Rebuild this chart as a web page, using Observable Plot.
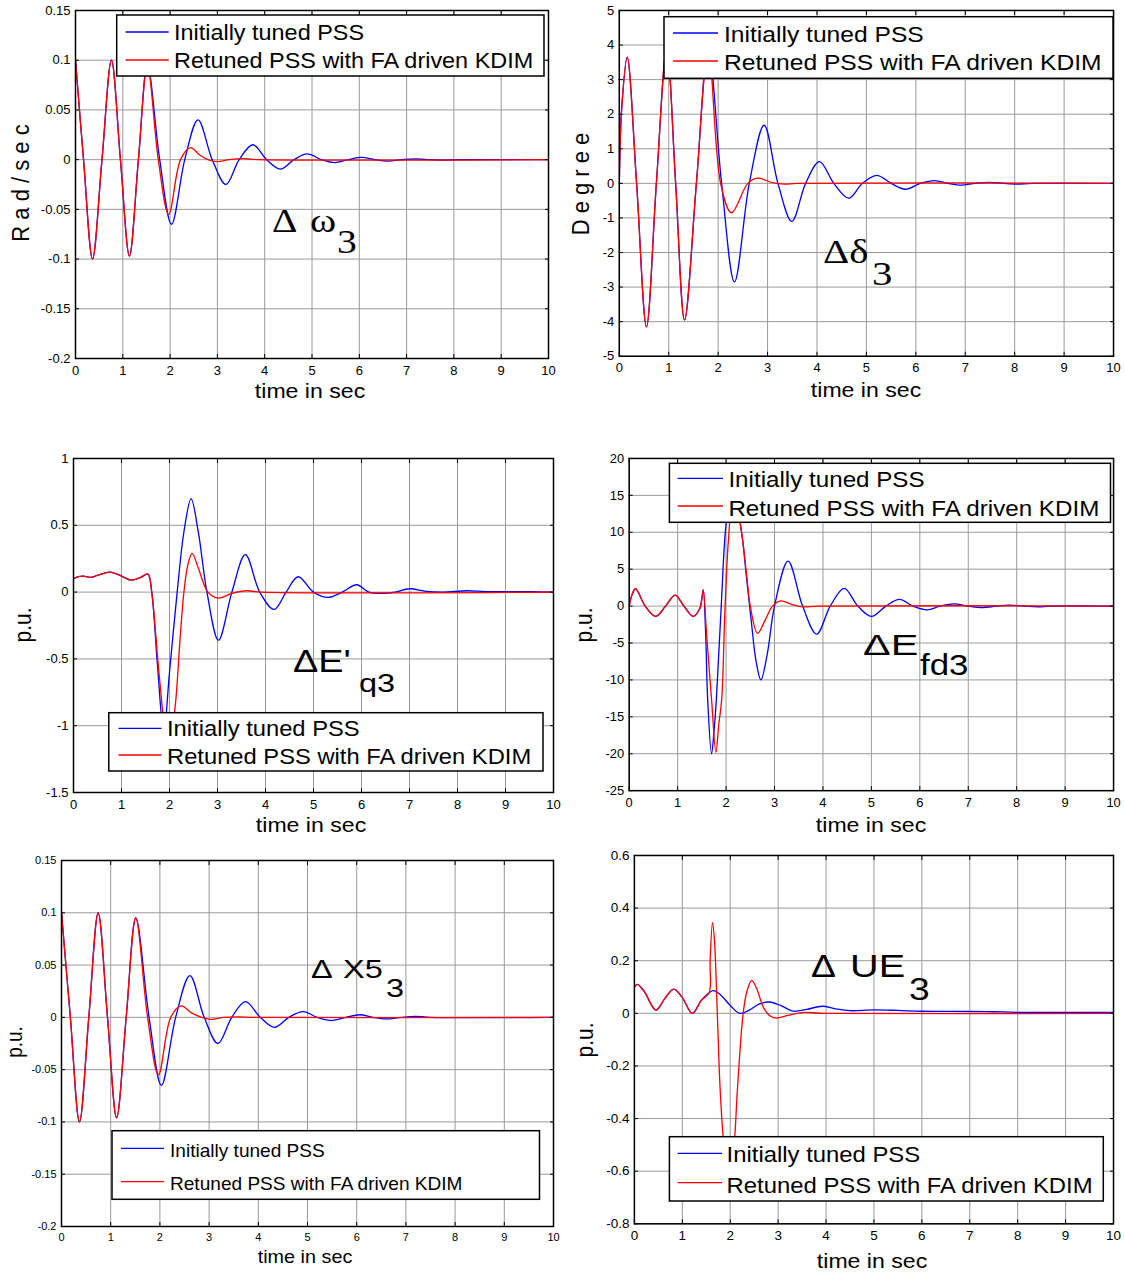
<!DOCTYPE html>
<html>
<head>
<meta charset="utf-8">
<script src="https://cdn.jsdelivr.net/npm/d3@7"></script>
<script src="https://cdn.jsdelivr.net/npm/@observablehq/plot@0.6"></script>
<style>
  html, body { margin: 0; padding: 0; background: #fff; }
  #fig { position: relative; width: 1125px; height: 1274px; overflow: hidden; background: #fff; }
  .panel { position: absolute; }
  #overlay { position: absolute; left: 0; top: 0; pointer-events: none; }
</style>
</head>
<body>
<div id="fig"></div>
<script>
// ---------- axis ticks ----------
const timeTicks  = [0, 1, 2, 3, 4, 5, 6, 7, 8, 9, 10];
const omegaTicks = [-0.2, -0.15, -0.1, -0.05, 0, 0.05, 0.1, 0.15];
const deltaTicks = [-5, -4, -3, -2, -1, 0, 1, 2, 3, 4, 5];
const eqTicks    = [-1.5, -1, -0.5, 0, 0.5, 1];
const efdTicks   = [-25, -20, -15, -10, -5, 0, 5, 10, 15, 20];
const x5Ticks    = [-0.2, -0.15, -0.1, -0.05, 0, 0.05, 0.1, 0.15];
const ueTicks    = [-0.8, -0.6, -0.4, -0.2, 0, 0.2, 0.4, 0.6];

const seriesNames = ["Initially tuned PSS", "Retuned PSS with FA driven KDIM"];
const seriesColors = ["#0000ff", "#ff0000"];

// ---------- responses: [time (s), value] ----------
// Δω3 (rad/s): common start, then each controller's tail
const omegaCommon = [[0,0.1],[0.17,0],[0.36,-0.1],[0.56,0],[0.76,0.1],[0.95,0],[1.14,-0.097],[1.33,0],[1.52,0.095]];
const omegaInitialTail = [[1.78,0],[2.03,-0.065],[2.31,0],[2.59,0.04],[2.89,0],[3.18,-0.025],[3.46,0],[3.75,0.015],[4.04,0],[4.33,-0.0095],[4.62,0],[4.9,0.0058],[5.2,0],[5.48,-0.003],[5.77,0],[6.05,0.0022],[6.33,0],[6.6,-0.0014],[6.9,0],[7.2,0.0008],[7.5,0],[7.8,-0.0004],[8.1,0],[10,0]];
const omegaRetunedTail = [[1.75,0],[1.97,-0.055],[2.22,0],[2.43,0.012],[2.62,0.005],[2.8,0],[3.0,-0.002],[3.25,0],[3.55,0.001],[3.9,0],[10,0]];

// Δδ3 (degree)
const deltaCommon = [[0,0],[0.05,2.2],[0.16,3.65],[0.35,0],[0.55,-4.15],[0.75,0],[0.96,3.9],[1.14,0],[1.32,-3.95],[1.56,0],[1.8,3.9]];
const deltaInitialTail = [[2.07,0],[2.33,-2.85],[2.63,0],[2.93,1.68],[3.21,0],[3.49,-1.1],[3.77,0],[4.05,0.63],[4.34,0],[4.64,-0.43],[4.92,0],[5.21,0.23],[5.5,0],[5.79,-0.17],[6.09,0],[6.38,0.08],[6.65,0],[6.92,-0.05],[7.2,0],[7.5,0.03],[7.78,0],[8.06,-0.02],[8.35,0],[10,0]];
const deltaRetunedTail = [[2.05,0],[2.27,-0.85],[2.6,0],[2.8,0.15],[3.1,0.02],[3.35,-0.02],[3.6,0],[10,0]];

// ΔE'q3 (p.u.)
const eqCommon = [[0,0.1],[0.1,0.115],[0.2,0.12],[0.35,0.11],[0.5,0.125],[0.76,0.15],[1.0,0.12],[1.2,0.09],[1.4,0.11],[1.55,0.135]];
const eqInitialTail = [[1.63,0],[1.75,-0.55],[1.88,-1.05],[2.0,-0.6],[2.16,0],[2.3,0.45],[2.45,0.7],[2.6,0.45],[2.78,0],[3.02,-0.36],[3.3,0],[3.58,0.28],[3.88,0],[4.18,-0.13],[4.43,0],[4.68,0.115],[5.0,0],[5.3,-0.04],[5.6,0],[5.9,0.055],[6.15,0],[6.45,-0.01],[6.7,0],[7.0,0.025],[7.35,0.005],[7.7,0],[8.2,0.01],[8.6,0.003],[9.5,0.004],[10,0]];
const eqRetunedTail = [[1.63,0],[1.78,-0.6],[1.98,-1.2],[2.12,-0.85],[2.22,-0.35],[2.3,0],[2.38,0.2],[2.47,0.29],[2.6,0.18],[2.8,0],[3.02,-0.045],[3.3,-0.01],[3.6,0.01],[3.9,0],[10,0]];

// ΔEfd3 (p.u.)
const efdCommon = [[0,0],[0.04,1.2],[0.13,2.35],[0.33,0],[0.55,-1.4],[0.75,0],[0.95,1.5],[1.13,0],[1.32,-1.4],[1.46,-0.3],[1.5,1.0],[1.53,2.2]];
const efdInitialTail = [[1.58,-4],[1.62,-12.6],[1.7,-20],[1.75,-17],[1.8,-12.6],[1.9,0],[2.0,11],[2.1,14.5],[2.2,14],[2.32,10],[2.42,4],[2.52,-2],[2.62,-7.5],[2.72,-10],[2.85,-6.5],[3.0,0],[3.28,6.1],[3.58,0],[3.87,-3.8],[4.15,0],[4.44,2.4],[4.72,0],[5.0,-1.4],[5.3,0],[5.58,0.9],[5.86,0],[6.15,-0.5],[6.42,0],[6.7,0.3],[7.0,0],[7.3,-0.2],[7.58,0],[7.85,0.12],[8.15,0],[8.44,-0.1],[8.7,0],[10,0]];
const efdRetunedTail = [[1.6,-4],[1.7,-12.6],[1.79,-19.8],[1.85,-16],[1.91,-12.6],[1.98,0],[2.05,9],[2.12,13],[2.2,13.5],[2.32,10],[2.42,4.5],[2.5,0],[2.65,-3.7],[2.8,-2],[2.96,0],[3.13,0.7],[3.35,0.25],[3.6,-0.1],[3.9,0],[10,0]];

// ΔX53 (p.u.)
const x5Common = [[0,0.1],[0.18,0],[0.365,-0.1],[0.555,0],[0.745,0.1],[0.935,0],[1.12,-0.096],[1.315,0],[1.51,0.095]];
const x5InitialTail = [[1.78,0],[2.03,-0.065],[2.32,0],[2.61,0.04],[2.9,0],[3.18,-0.025],[3.46,0],[3.74,0.015],[4.04,0],[4.33,-0.0095],[4.62,0],[4.91,0.0055],[5.2,0],[5.49,-0.003],[5.78,0],[6.06,0.0025],[6.33,0],[6.6,-0.0015],[6.9,0],[7.19,0.001],[7.5,0],[10,0]];
const x5RetunedTail = [[1.75,0],[1.97,-0.055],[2.22,0],[2.43,0.011],[2.65,0.004],[2.85,0],[3.03,-0.002],[3.3,0],[3.6,0.0005],[3.9,0],[10,0]];

// ΔUE3 (p.u.)
const ueCommon = [[0,0.1],[0.06,0.11],[0.2,0.085],[0.45,0.012],[0.63,0.055],[0.82,0.092],[1.0,0.06],[1.21,0.0],[1.4,0.05],[1.56,0.078]];
const ueInitialTail = [[1.65,0.086],[1.8,0.07],[2.0,0.03],[2.2,0.0],[2.4,0.012],[2.6,0.035],[2.82,0.043],[3.05,0.03],[3.32,0.008],[3.6,0.015],[3.92,0.027],[4.2,0.017],[4.5,0.01],[5.0,0.013],[5.5,0.011],[6.0,0.008],[7.0,0.007],[7.5,0.006],[8.0,0.004],[10,0.004]];
const ueRetunedTail = [[1.58,0.2],[1.63,0.345],[1.67,0.28],[1.73,0.0],[1.79,-0.29],[1.87,-0.5],[1.98,-0.62],[2.08,-0.5],[2.15,-0.29],[2.27,0],[2.35,0.085],[2.45,0.125],[2.55,0.095],[2.7,0.02],[2.85,-0.012],[2.97,-0.018],[3.2,-0.008],[3.5,0.003],[4,0],[10,0]];

// ---------- panel layout (page pixels) ----------
const SANS = "'Liberation Sans', Arial, sans-serif";
const SERIF = "'Liberation Serif', 'Times New Roman', serif";

const panels = [
  {
    frame: [75, 548, 10, 358], yTicks: omegaTicks, tickFont: 13,
    initial: omegaCommon.concat(omegaInitialTail), retuned: omegaCommon.concat(omegaRetunedTail),
    legend: {box: [116.7, 15, 544, 76], lineX: [125.6, 168.7], rowY: [32, 60], textX: 174, base: [40, 68], font: 21.5, sx: 1.09},
    ylabel: {text: "R a d / s e c", x: 28.5, y: 183, font: 22},
    xlabel: {x: 310, y: 398, font: 21},
    notes: [
      {text: "Δ", x: 272, y: 232, font: 33, family: SERIF, sx: 1.2},
      {text: "ω", x: 310, y: 232, font: 33, family: SERIF, sx: 1.2},
      {text: "3", x: 337, y: 253, font: 33, family: SERIF, sx: 1.2}
    ]
  },
  {
    frame: [619, 1115, 10, 357], yTicks: deltaTicks, tickFont: 13,
    initial: deltaCommon.concat(deltaInitialTail), retuned: deltaCommon.concat(deltaRetunedTail),
    legend: {box: [664, 16.7, 1113, 78.3], lineX: [673, 718], rowY: [33, 61], textX: 724, base: [41.5, 70], font: 21.5, sx: 1.145},
    ylabel: {text: "D e g r e e", x: 589, y: 184, font: 22},
    xlabel: {x: 866, y: 397, font: 21},
    notes: [
      {text: "Δδ", x: 823, y: 263, font: 34, family: SERIF, sx: 1.2},
      {text: "3", x: 872, y: 285, font: 34, family: SERIF, sx: 1.2}
    ]
  },
  {
    frame: [73, 553, 458, 792], yTicks: eqTicks, tickFont: 13,
    initial: eqCommon.concat(eqInitialTail), retuned: eqCommon.concat(eqRetunedTail),
    legend: {box: [108.8, 712.7, 543, 771], lineX: [118.5, 161.5], rowY: [728.3, 755], textX: 167, base: [736, 764], font: 21.5, sx: 1.105},
    ylabel: {text: "p.u.", x: 31, y: 625, font: 21},
    xlabel: {x: 311, y: 832, font: 21},
    notes: [
      {text: "ΔE'", x: 293, y: 672, font: 31, family: SANS, sx: 1.22},
      {text: "q3", x: 359, y: 692, font: 26, family: SANS, sx: 1.25}
    ]
  },
  {
    frame: [629, 1116, 458, 792], yTicks: efdTicks, tickFont: 13,
    initial: efdCommon.concat(efdInitialTail), retuned: efdCommon.concat(efdRetunedTail),
    legend: {box: [669.4, 463.3, 1110.5, 522.3], lineX: [677.7, 723], rowY: [478.3, 506], textX: 728.4, base: [486.7, 515.7], font: 21.5, sx: 1.125},
    ylabel: {text: "p.u.", x: 592, y: 625, font: 21},
    xlabel: {x: 871, y: 832, font: 21},
    notes: [
      {text: "ΔE", x: 863, y: 655, font: 30, family: SANS, sx: 1.38},
      {text: "fd3", x: 920, y: 675, font: 29, family: SANS, sx: 1.2}
    ]
  },
  {
    frame: [61, 553, 860, 1226], yTicks: x5Ticks, tickFont: 11,
    initial: x5Common.concat(x5InitialTail), retuned: x5Common.concat(x5RetunedTail),
    legend: {box: [112, 1130.7, 539.5, 1199.3], lineX: [121, 164], rowY: [1148.3, 1181.7], textX: 170, base: [1156.7, 1190], font: 17.5, sx: 1.09},
    ylabel: {text: "p.u.", x: 21.5, y: 1042, font: 19},
    xlabel: {x: 305, y: 1263, font: 18},
    notes: [
      {text: "Δ", x: 311, y: 978, font: 25, family: SANS, sx: 1.3},
      {text: "X5", x: 343, y: 978, font: 25, family: SANS, sx: 1.3},
      {text: "3", x: 386, y: 997, font: 25, family: SANS, sx: 1.3}
    ]
  },
  {
    frame: [634, 1114, 855, 1224], yTicks: ueTicks, tickFont: 13.5,
    initial: ueCommon.concat(ueInitialTail), retuned: ueCommon.concat(ueRetunedTail),
    legend: {box: [669.4, 1136.7, 1103.3, 1201], lineX: [677.7, 722], rowY: [1153.3, 1182.7], textX: 726.6, base: [1161.7, 1193.3], font: 21.5, sx: 1.11},
    ylabel: {text: "p.u.", x: 593, y: 1040, font: 21},
    xlabel: {x: 872, y: 1268, font: 21},
    notes: [
      {text: "Δ", x: 811, y: 977, font: 31, family: SANS, sx: 1.2},
      {text: "UE", x: 850, y: 977, font: 31, family: SANS, sx: 1.28},
      {text: "3", x: 909, y: 1000, font: 31, family: SANS, sx: 1.2}
    ]
  }
];

const fig = document.getElementById("fig");
const fmt = d => String(d);

// ---------- one Plot per panel ----------
for (const p of panels) {
  const [x0, x1, y0, y1] = p.frame;
  const ml = 56, mr = 12, mt = 8, mb = 28;
  const yDomain = [p.yTicks[0], p.yTicks[p.yTicks.length - 1]];
  const rows = pts => pts.map(([t, v]) => ({t, v}));

  const chart = Plot.plot({
    width: x1 - x0 + ml + mr,
    height: y1 - y0 + mt + mb,
    marginLeft: ml, marginRight: mr, marginTop: mt, marginBottom: mb,
    style: {background: "transparent", overflow: "visible", fontFamily: SANS, fontSize: p.tickFont + "px", color: "black"},
    x: {domain: [0, 10]},
    y: {domain: yDomain},
    marks: [
      Plot.gridX(timeTicks, {stroke: "#9a9a9a", strokeOpacity: 1, strokeWidth: 1}),
      Plot.gridY(p.yTicks, {stroke: "#9a9a9a", strokeOpacity: 1, strokeWidth: 1}),
      Plot.line(rows(p.initial), {x: "t", y: "v", stroke: seriesColors[0], strokeWidth: 1.3, curve: "catmull-rom", clip: true}),
      Plot.line(rows(p.retuned), {x: "t", y: "v", stroke: seriesColors[1], strokeWidth: 1.3, curve: "catmull-rom", clip: true}),
      Plot.frame({stroke: "black", strokeWidth: 1.5}),
      Plot.axisX(timeTicks, {anchor: "bottom", tickSize: -4, tickPadding: 11, tickFormat: fmt, label: null}),
      Plot.axisX(timeTicks, {anchor: "top", tickSize: -4, fill: "none", label: null}),
      Plot.axisY(p.yTicks, {anchor: "left", tickSize: -4, tickPadding: 9, tickFormat: fmt, label: null}),
      Plot.axisY(p.yTicks, {anchor: "right", tickSize: -4, fill: "none", label: null})
    ]
  });

  const holder = document.createElement("div");
  holder.className = "panel";
  holder.style.left = (x0 - ml) + "px";
  holder.style.top = (y0 - mt) + "px";
  holder.appendChild(chart);
  fig.appendChild(holder);
}

// ---------- labels, annotations and legends ----------
const overlay = d3.select(fig).append("svg")
  .attr("id", "overlay")
  .attr("width", 1125)
  .attr("height", 1274);

function label(str, x, y, size, family, sx, anchor) {
  return overlay.append("text")
    .attr("transform", `translate(${x},${y}) scale(${sx},1)`)
    .attr("font-family", family)
    .attr("font-size", size)
    .attr("text-anchor", anchor || "start")
    .attr("fill", "black")
    .text(str);
}

for (const p of panels) {
  // y-axis title, reading upward
  overlay.append("text")
    .attr("transform", `translate(${p.ylabel.x},${p.ylabel.y}) rotate(-90) scale(1,1.12)`)
    .attr("font-family", SANS)
    .attr("font-size", p.ylabel.font)
    .attr("text-anchor", "middle")
    .text(p.ylabel.text);

  // x-axis title
  label("time in sec", p.xlabel.x, p.xlabel.y, p.xlabel.font, SANS, 1.1, "middle");

  // variable name inside the axes
  for (const n of p.notes) label(n.text, n.x, n.y, n.font, n.family, n.sx);

  // legend box
  const L = p.legend;
  overlay.append("rect")
    .attr("x", L.box[0]).attr("y", L.box[1])
    .attr("width", L.box[2] - L.box[0]).attr("height", L.box[3] - L.box[1])
    .attr("fill", "white").attr("stroke", "black").attr("stroke-width", 1.5);
  seriesNames.forEach((name, i) => {
    overlay.append("line")
      .attr("x1", L.lineX[0]).attr("x2", L.lineX[1])
      .attr("y1", L.rowY[i]).attr("y2", L.rowY[i])
      .attr("stroke", seriesColors[i]).attr("stroke-width", 1.3);
    label(name, L.textX, L.base[i], L.font, SANS, L.sx);
  });
}
</script>
</body>
</html>
